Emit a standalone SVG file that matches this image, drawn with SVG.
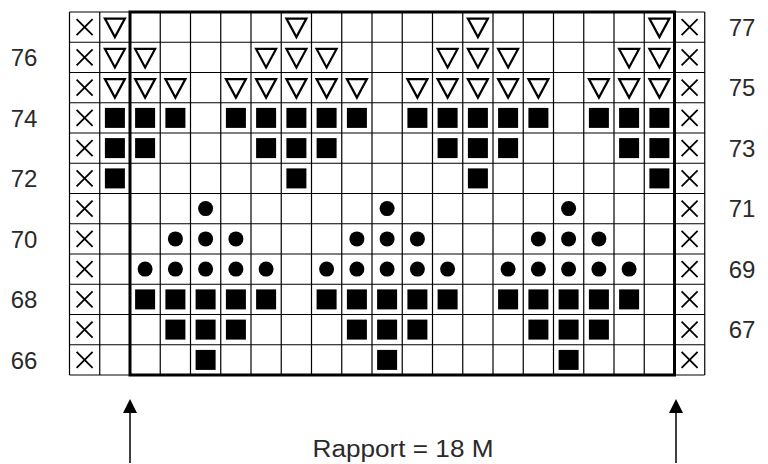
<svg xmlns="http://www.w3.org/2000/svg" xmlns:xlink="http://www.w3.org/1999/xlink" width="768" height="464" viewBox="0 0 768 464">
<style>
.grid line{stroke:#000;stroke-width:1.2}
.lbl{font-family:"Liberation Sans",Arial,sans-serif;font-size:24px;fill:#2a2a2a;text-anchor:middle}
.title{font-family:"Liberation Sans",Arial,sans-serif;font-size:23px;fill:#2a2a2a;text-anchor:middle}
</style>
<defs>
<rect id="sq" x="-10" y="-10" width="20" height="20" fill="#000"/>
<circle id="dot" r="7.5" fill="#000"/>
<path id="tri" d="M-10,-8.5 H10 L0,10 Z" fill="none" stroke="#000" stroke-width="2.2" stroke-linejoin="miter"/>
<path id="x" d="M-8,-8 L8,8 M8,-8 L-8,8" stroke="#000" stroke-width="1.8" fill="none"/>
<marker id="ah" markerWidth="14" markerHeight="14" refX="12" refY="7" orient="auto" markerUnits="userSpaceOnUse" viewBox="0 0 14 14">
<path d="M0,0 L14,7 L0,14 Z" fill="#000"/>
</marker>
</defs>
<rect width="768" height="464" fill="#fff"/>
<g id="grid" class="grid">
<line x1="69.5" y1="12" x2="69.5" y2="375"/>
<line x1="99.75" y1="12" x2="99.75" y2="375"/>
<line x1="130" y1="12" x2="130" y2="375"/>
<line x1="160.25" y1="12" x2="160.25" y2="375"/>
<line x1="190.5" y1="12" x2="190.5" y2="375"/>
<line x1="220.75" y1="12" x2="220.75" y2="375"/>
<line x1="251" y1="12" x2="251" y2="375"/>
<line x1="281.25" y1="12" x2="281.25" y2="375"/>
<line x1="311.5" y1="12" x2="311.5" y2="375"/>
<line x1="341.75" y1="12" x2="341.75" y2="375"/>
<line x1="372" y1="12" x2="372" y2="375"/>
<line x1="402.25" y1="12" x2="402.25" y2="375"/>
<line x1="432.5" y1="12" x2="432.5" y2="375"/>
<line x1="462.75" y1="12" x2="462.75" y2="375"/>
<line x1="493" y1="12" x2="493" y2="375"/>
<line x1="523.25" y1="12" x2="523.25" y2="375"/>
<line x1="553.5" y1="12" x2="553.5" y2="375"/>
<line x1="583.75" y1="12" x2="583.75" y2="375"/>
<line x1="614" y1="12" x2="614" y2="375"/>
<line x1="644.25" y1="12" x2="644.25" y2="375"/>
<line x1="674.5" y1="12" x2="674.5" y2="375"/>
<line x1="704.75" y1="12" x2="704.75" y2="375"/>
<line x1="69.5" y1="12" x2="704.75" y2="12"/>
<line x1="69.5" y1="42.25" x2="704.75" y2="42.25"/>
<line x1="69.5" y1="72.5" x2="704.75" y2="72.5"/>
<line x1="69.5" y1="102.75" x2="704.75" y2="102.75"/>
<line x1="69.5" y1="133" x2="704.75" y2="133"/>
<line x1="69.5" y1="163.25" x2="704.75" y2="163.25"/>
<line x1="69.5" y1="193.5" x2="704.75" y2="193.5"/>
<line x1="69.5" y1="223.75" x2="704.75" y2="223.75"/>
<line x1="69.5" y1="254" x2="704.75" y2="254"/>
<line x1="69.5" y1="284.25" x2="704.75" y2="284.25"/>
<line x1="69.5" y1="314.5" x2="704.75" y2="314.5"/>
<line x1="69.5" y1="344.75" x2="704.75" y2="344.75"/>
<line x1="69.5" y1="375" x2="704.75" y2="375"/>
</g>
<rect id="rapport" x="130" y="12" width="544.5" height="363" fill="none" stroke="#000" stroke-width="3"/>
<g id="edges">
<use href="#x" x="84.6" y="27.1"/><use href="#x" x="84.6" y="57.4"/><use href="#x" x="84.6" y="87.6"/><use href="#x" x="84.6" y="117.9"/><use href="#x" x="84.6" y="148.1"/><use href="#x" x="84.6" y="178.4"/><use href="#x" x="84.6" y="208.6"/><use href="#x" x="84.6" y="238.9"/><use href="#x" x="84.6" y="269.1"/><use href="#x" x="84.6" y="299.4"/><use href="#x" x="84.6" y="329.6"/><use href="#x" x="84.6" y="359.9"/>
<use href="#x" x="689.6" y="27.1"/><use href="#x" x="689.6" y="57.4"/><use href="#x" x="689.6" y="87.6"/><use href="#x" x="689.6" y="117.9"/><use href="#x" x="689.6" y="148.1"/><use href="#x" x="689.6" y="178.4"/><use href="#x" x="689.6" y="208.6"/><use href="#x" x="689.6" y="238.9"/><use href="#x" x="689.6" y="269.1"/><use href="#x" x="689.6" y="299.4"/><use href="#x" x="689.6" y="329.6"/><use href="#x" x="689.6" y="359.9"/>
</g>
<g id="row77">
<use href="#tri" x="114.9" y="27.1"/><use href="#tri" x="296.4" y="27.1"/><use href="#tri" x="477.9" y="27.1"/><use href="#tri" x="659.4" y="27.1"/>
</g>
<g id="row76">
<use href="#tri" x="114.9" y="57.4"/><use href="#tri" x="145.1" y="57.4"/><use href="#tri" x="266.1" y="57.4"/><use href="#tri" x="296.4" y="57.4"/><use href="#tri" x="326.6" y="57.4"/><use href="#tri" x="447.6" y="57.4"/><use href="#tri" x="477.9" y="57.4"/><use href="#tri" x="508.1" y="57.4"/><use href="#tri" x="629.1" y="57.4"/><use href="#tri" x="659.4" y="57.4"/>
</g>
<g id="row75">
<use href="#tri" x="114.9" y="87.6"/><use href="#tri" x="145.1" y="87.6"/><use href="#tri" x="175.4" y="87.6"/><use href="#tri" x="235.9" y="87.6"/><use href="#tri" x="266.1" y="87.6"/><use href="#tri" x="296.4" y="87.6"/><use href="#tri" x="326.6" y="87.6"/><use href="#tri" x="356.9" y="87.6"/><use href="#tri" x="417.4" y="87.6"/><use href="#tri" x="447.6" y="87.6"/><use href="#tri" x="477.9" y="87.6"/><use href="#tri" x="508.1" y="87.6"/><use href="#tri" x="538.4" y="87.6"/><use href="#tri" x="598.9" y="87.6"/><use href="#tri" x="629.1" y="87.6"/><use href="#tri" x="659.4" y="87.6"/>
</g>
<g id="row74">
<use href="#sq" x="114.9" y="117.9"/><use href="#sq" x="145.1" y="117.9"/><use href="#sq" x="175.4" y="117.9"/><use href="#sq" x="235.9" y="117.9"/><use href="#sq" x="266.1" y="117.9"/><use href="#sq" x="296.4" y="117.9"/><use href="#sq" x="326.6" y="117.9"/><use href="#sq" x="356.9" y="117.9"/><use href="#sq" x="417.4" y="117.9"/><use href="#sq" x="447.6" y="117.9"/><use href="#sq" x="477.9" y="117.9"/><use href="#sq" x="508.1" y="117.9"/><use href="#sq" x="538.4" y="117.9"/><use href="#sq" x="598.9" y="117.9"/><use href="#sq" x="629.1" y="117.9"/><use href="#sq" x="659.4" y="117.9"/>
</g>
<g id="row73">
<use href="#sq" x="114.9" y="148.1"/><use href="#sq" x="145.1" y="148.1"/><use href="#sq" x="266.1" y="148.1"/><use href="#sq" x="296.4" y="148.1"/><use href="#sq" x="326.6" y="148.1"/><use href="#sq" x="447.6" y="148.1"/><use href="#sq" x="477.9" y="148.1"/><use href="#sq" x="508.1" y="148.1"/><use href="#sq" x="629.1" y="148.1"/><use href="#sq" x="659.4" y="148.1"/>
</g>
<g id="row72">
<use href="#sq" x="114.9" y="178.4"/><use href="#sq" x="296.4" y="178.4"/><use href="#sq" x="477.9" y="178.4"/><use href="#sq" x="659.4" y="178.4"/>
</g>
<g id="row71">
<use href="#dot" x="205.6" y="208.6"/><use href="#dot" x="387.1" y="208.6"/><use href="#dot" x="568.6" y="208.6"/>
</g>
<g id="row70">
<use href="#dot" x="175.4" y="238.9"/><use href="#dot" x="205.6" y="238.9"/><use href="#dot" x="235.9" y="238.9"/><use href="#dot" x="356.9" y="238.9"/><use href="#dot" x="387.1" y="238.9"/><use href="#dot" x="417.4" y="238.9"/><use href="#dot" x="538.4" y="238.9"/><use href="#dot" x="568.6" y="238.9"/><use href="#dot" x="598.9" y="238.9"/>
</g>
<g id="row69">
<use href="#dot" x="145.1" y="269.1"/><use href="#dot" x="175.4" y="269.1"/><use href="#dot" x="205.6" y="269.1"/><use href="#dot" x="235.9" y="269.1"/><use href="#dot" x="266.1" y="269.1"/><use href="#dot" x="326.6" y="269.1"/><use href="#dot" x="356.9" y="269.1"/><use href="#dot" x="387.1" y="269.1"/><use href="#dot" x="417.4" y="269.1"/><use href="#dot" x="447.6" y="269.1"/><use href="#dot" x="508.1" y="269.1"/><use href="#dot" x="538.4" y="269.1"/><use href="#dot" x="568.6" y="269.1"/><use href="#dot" x="598.9" y="269.1"/><use href="#dot" x="629.1" y="269.1"/>
</g>
<g id="row68">
<use href="#sq" x="145.1" y="299.4"/><use href="#sq" x="175.4" y="299.4"/><use href="#sq" x="205.6" y="299.4"/><use href="#sq" x="235.9" y="299.4"/><use href="#sq" x="266.1" y="299.4"/><use href="#sq" x="326.6" y="299.4"/><use href="#sq" x="356.9" y="299.4"/><use href="#sq" x="387.1" y="299.4"/><use href="#sq" x="417.4" y="299.4"/><use href="#sq" x="447.6" y="299.4"/><use href="#sq" x="508.1" y="299.4"/><use href="#sq" x="538.4" y="299.4"/><use href="#sq" x="568.6" y="299.4"/><use href="#sq" x="598.9" y="299.4"/><use href="#sq" x="629.1" y="299.4"/>
</g>
<g id="row67">
<use href="#sq" x="175.4" y="329.6"/><use href="#sq" x="205.6" y="329.6"/><use href="#sq" x="235.9" y="329.6"/><use href="#sq" x="356.9" y="329.6"/><use href="#sq" x="387.1" y="329.6"/><use href="#sq" x="417.4" y="329.6"/><use href="#sq" x="538.4" y="329.6"/><use href="#sq" x="568.6" y="329.6"/><use href="#sq" x="598.9" y="329.6"/>
</g>
<g id="row66">
<use href="#sq" x="205.6" y="359.9"/><use href="#sq" x="387.1" y="359.9"/><use href="#sq" x="568.6" y="359.9"/>
</g>
<g id="labels">
<text class="lbl" x="24" y="66">76</text>
<text class="lbl" x="24" y="126.5">74</text>
<text class="lbl" x="24" y="187">72</text>
<text class="lbl" x="24" y="247.5">70</text>
<text class="lbl" x="24" y="308">68</text>
<text class="lbl" x="24" y="368.5">66</text>
<text class="lbl" x="742" y="35.8">77</text>
<text class="lbl" x="742" y="96.3">75</text>
<text class="lbl" x="742" y="156.8">73</text>
<text class="lbl" x="742" y="217.3">71</text>
<text class="lbl" x="742" y="277.8">69</text>
<text class="lbl" x="742" y="338.3">67</text>
<text class="title" x="403" y="457" textLength="181" lengthAdjust="spacingAndGlyphs">Rapport = 18 M</text>
</g>
<g id="connectors">
<line x1="130" y1="463" x2="130" y2="401" stroke="#000" stroke-width="1.5" marker-end="url(#ah)"/>
<line x1="676" y1="463" x2="676" y2="401" stroke="#000" stroke-width="1.5" marker-end="url(#ah)"/>
</g>
</svg>
